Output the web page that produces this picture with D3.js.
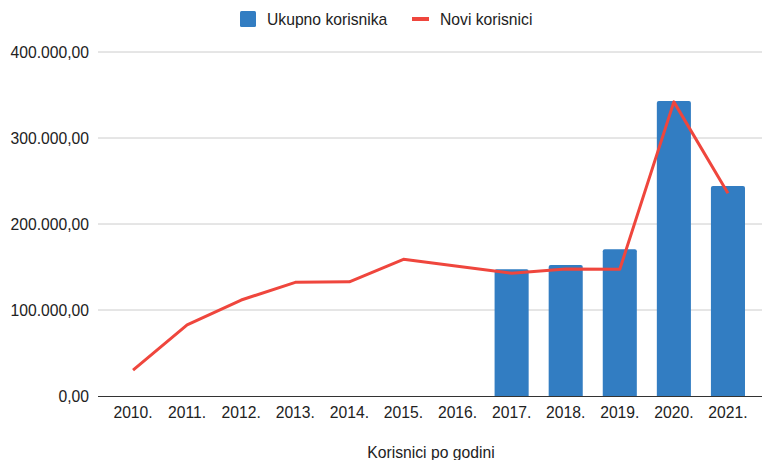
<!DOCTYPE html>
<html>
<head>
<meta charset="utf-8">
<script src="https://cdn.jsdelivr.net/npm/d3@7"></script>
<style>
  body { margin: 0; background: #fff; }
  svg { display: block; font-family: "Liberation Sans", Arial, sans-serif; }
</style>
</head>
<body>
<svg id="chart" width="762" height="460"></svg>
<script>
// Korisnici po godini
const years = ["2010.", "2011.", "2012.", "2013.", "2014.", "2015.", "2016.", "2017.", "2018.", "2019.", "2020.", "2021."];
const ukupno = [null, null, null, null, null, null, null, 147300, 152300, 170600, 343000, 244200];
const novi = [30200, 82600, 111600, 132200, 132800, 159000, 151000, 142700, 147700, 147300, 342000, 235700];
const yTicks = [0, 100000, 200000, 300000, 400000];

const colors = { bar: "#327dc2", line: "#ef463d", grid: "#cccccc", axis: "#333333" };

const svg = d3.select("#chart");
const plot = { left: 98, right: 762, top: 52, bottom: 396 };

const x = d3.scaleBand().domain(years).range([106, 755]).paddingInner(0.37).paddingOuter(0.185);
const y = d3.scaleLinear().domain([0, 400000]).range([plot.bottom, plot.top]);

const fmt = v => d3.format(",.2f")(v).replace(/,/g, "#").replace(".", ",").replace(/#/g, ".");

// mreža
svg.append("g")
  .selectAll("line")
  .data(yTicks.filter(d => d > 0))
  .enter().append("line")
  .attr("x1", plot.left).attr("x2", plot.right)
  .attr("y1", d => y(d)).attr("y2", d => y(d))
  .style("stroke", colors.grid).style("stroke-width", 1);

// oznake y osi
svg.append("g")
  .selectAll("text")
  .data(yTicks)
  .enter().append("text")
  .attr("x", 89).attr("y", d => y(d) + 5.5)
  .attr("text-anchor", "end")
  .style("font-size", "15.7px").style("fill", "#222")
  .text(d => fmt(d));

// stupci (zaobljeni samo gornji kutovi)
const r = 2;
svg.append("g")
  .selectAll("path")
  .data(years.map((yr, i) => ({ yr, v: ukupno[i] })).filter(d => d.v !== null))
  .enter().append("path")
  .attr("d", d => {
    const x0 = x(d.yr), x1 = x0 + x.bandwidth(), y0 = y(d.v), yb = plot.bottom;
    return `M${x0},${yb}V${y0 + r}Q${x0},${y0} ${x0 + r},${y0}H${x1 - r}Q${x1},${y0} ${x1},${y0 + r}V${yb}Z`;
  })
  .style("fill", colors.bar);

// os x
svg.append("line")
  .attr("x1", plot.left).attr("x2", plot.right)
  .attr("y1", plot.bottom + 0.5).attr("y2", plot.bottom + 0.5)
  .style("stroke", colors.axis).style("stroke-width", 1.2);

svg.append("g")
  .selectAll("text")
  .data(years)
  .enter().append("text")
  .attr("x", d => x(d) + x.bandwidth() / 2)
  .attr("y", 418)
  .attr("text-anchor", "middle")
  .style("font-size", "15.7px").style("fill", "#222")
  .text(d => d);

// linija
const line = d3.line()
  .x((d, i) => x(years[i]) + x.bandwidth() / 2)
  .y(d => y(d));

svg.append("path")
  .datum(novi)
  .attr("d", line)
  .style("fill", "none")
  .style("stroke", colors.line)
  .style("stroke-width", 3)
  .style("stroke-linejoin", "round");

// naslov osi
svg.append("text")
  .attr("x", 431)
  .attr("y", 458)
  .attr("text-anchor", "middle")
  .style("font-size", "15.7px").style("fill", "#222")
  .text("Korisnici po godini");

// legenda
const legend = svg.append("g");
legend.append("rect")
  .attr("x", 240).attr("y", 11).attr("width", 16).attr("height", 16).attr("rx", 1.5)
  .style("fill", colors.bar);
legend.append("text")
  .attr("x", 267).attr("y", 24.5)
  .style("font-size", "15.7px").style("fill", "#222")
  .text("Ukupno korisnika");
legend.append("rect")
  .attr("x", 412).attr("y", 17).attr("width", 17).attr("height", 4)
  .style("fill", colors.line);
legend.append("text")
  .attr("x", 440).attr("y", 24.5)
  .style("font-size", "15.7px").style("fill", "#222")
  .text("Novi korisnici");
</script>
</body>
</html>
